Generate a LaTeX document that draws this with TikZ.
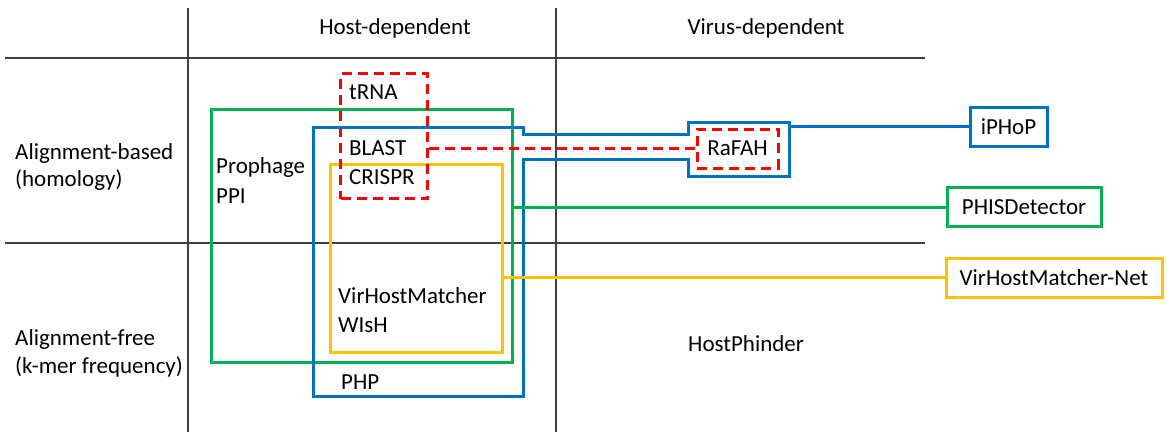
\documentclass[tikz,border=0pt]{standalone}
\usepackage{fontspec}
\setmainfont{Carlito}
\usetikzlibrary{positioning}
\definecolor{hostgreen}{RGB}{0,176,80}
\definecolor{hostblue}{RGB}{0,112,192}
\definecolor{hostyellow}{RGB}{255,192,0}
\definecolor{hostred}{RGB}{255,0,0}

\begin{document}
\begin{tikzpicture}[
    x=1pt, y=-1pt,
    every node/.style={font=\fontsize{23}{28}\selectfont, inner sep=0pt},
    txt/.style={anchor=base west},
    gridline/.style={draw=black!75, line width=1.3pt},
    frame/.style={line width=3pt, anchor=north west},
    tool/.style={draw, line width=3pt, minimum height=39pt},
    redbox/.style={draw=hostred, line width=3pt, dash pattern=on 10pt off 6pt}
  ]
  \useasboundingbox (0,0) rectangle (1167,432);

  % ---- table ----
  \draw[gridline] (188,8) -- (188,432);
  \draw[gridline] (556,8) -- (556,432);
  \draw[gridline] (5,58) -- (925,58);
  \draw[gridline] (5,243) -- (925,243);

  \node[anchor=base] (hdep) at (395,34) {Host-dependent};
  \node[anchor=base] (vdep) at (766,34) {Virus-dependent};
  \node[txt] (abased) at (15,159) {Alignment-based};
  \node[txt] (homol)  at (15,186) {(homology)};
  \node[txt] (afree)  at (15,345) {Alignment-free};
  \node[txt] (kmer)   at (15,373) {(k-mer frequency)};

  % ---- boxes ----
  \node[frame, draw=hostgreen, minimum width=301pt, minimum height=253pt] (phage) at (210,108) {};
  \node[frame, draw=hostyellow, minimum width=172pt, minimum height=188pt] (vhm) at (329,163) {};
  \node[frame, redbox, minimum width=87pt, minimum height=125pt] (seq) at (339,72) {};

  % PHP outline, reaching out to RaFAH
  \draw[hostblue, line width=3pt] (313,127) -- (523,127) -- (523,134) -- (688,134)
    -- (688,122) -- (789,122) -- (789,176) -- (688,176) -- (688,159)
    -- (523,159) -- (523,396) -- (313,396) -- cycle;
  \coordinate (php) at (789,128);

  % Texts
  \node[txt] (trna)     at (349,99)  {tRNA};
  \node[txt] (blast)    at (349,155) {BLAST};
  \node[txt] (crispr)   at (349,184) {CRISPR};
  \node[txt] (prophage) at (216,173) {Prophage};
  \node[txt] (ppi)      at (216,203) {PPI};
  \node[txt] (vhmtxt)   at (338,303) {VirHostMatcher};
  \node[txt] (wish)     at (338,332) {WIsH};
  \node[txt] (phptxt)   at (341,389) {PHP};
  \node[txt] (hphind)   at (688,351) {HostPhinder};

  % ---- tools ----
  \node[redbox, minimum width=81pt, minimum height=39pt] (rafah) at (737.5,148.5) {RaFAH};
  \node[tool, draw=hostblue, minimum width=77pt] (iphop) at (1008.5,126.5) {iPHoP};
  \node[tool, draw=hostgreen, minimum width=154pt] (phis) at (1024,207) {PHISDetector};
  \node[tool, draw=hostyellow, minimum width=216pt] (vhmnet) at (1054,277.5) {VirHostMatcher-Net};

  % Links
  \draw[redbox] (seq.east |- rafah) -- (rafah.west);
  \draw[hostblue, line width=3pt] (php |- iphop) -- (iphop.west);
  \draw[hostgreen, line width=3pt] (phage.east |- phis) -- (phis.west);
  \draw[hostyellow, line width=3pt] (vhm.east |- vhmnet) -- (vhmnet.west);
\end{tikzpicture}
\end{document}
